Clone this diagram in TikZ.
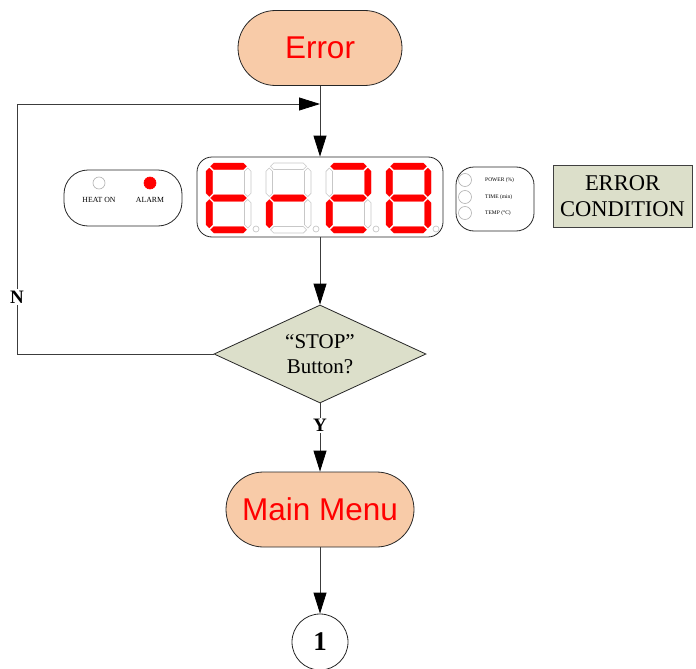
\documentclass[tikz,border=0pt]{standalone}
\usepackage{fontspec}
\setmainfont{Liberation Serif}
\newfontfamily\arialf{Liberation Sans}
\usetikzlibrary{arrows.meta,shapes.geometric}
\definecolor{peach}{HTML}{F8CBA8}
\definecolor{sage}{HTML}{DCDFCA}
\definecolor{lineg}{HTML}{3C3C3C}
\newcommand\fs[2]{\fontsize{#1}{#2}\selectfont}
\newcommand\hseg[4]{\path[#1] (#2,#4) -- (#2+3.25,#4-3.25) -- (#3-3.25,#4-3.25) -- (#3,#4) -- (#3-3.25,#4+3.25) -- (#2+3.25,#4+3.25) -- cycle;}
\newcommand\vseg[4]{\path[#1] (#2,#3) -- (#2+3.25,#3+3.25) -- (#2+3.25,#4-3.25) -- (#2,#4) -- (#2-3.25,#4-3.25) -- (#2-3.25,#3+3.25) -- cycle;}
\newcommand\sevenseg[8]{%
 \hseg{#2}{#1+4.5}{#1+40.5}{166.25}
 \vseg{#3}{#1+41.75}{168}{196.5}
 \vseg{#4}{#1+41.75}{199.5}{228}
 \hseg{#5}{#1+4.5}{#1+40.5}{229.75}
 \vseg{#6}{#1+3.25}{199.5}{228}
 \vseg{#7}{#1+3.25}{168}{196.5}
 \hseg{#8}{#1+4.5}{#1+40.5}{198}
 \path[segoff] (#1+50,229) circle (3pt);
}
\tikzset{
  segon/.style={fill=red,draw=red,line width=0.3pt},
  segoff/.style={fill=white,draw=black!22,line width=0.7pt},
  term/.style={draw=black!85,line width=0.8pt,fill=peach,rounded corners=37.5pt,minimum height=75,text=red,font=\arialf\fs{31.5}{36}},
  panel/.style={draw=black!85,line width=0.8pt,fill=white},
  led/.style={circle,draw=black!30,line width=0.6pt,fill=white,minimum size=12,inner sep=0pt},
  tinyt/.style={inner sep=0pt,font=\fs{7.8}{8}},
  microt/.style={inner sep=0pt,anchor=west,font=\fs{5.5}{6}},
  sagebox/.style={draw=black!75,line width=0.8pt,fill=sage,align=center,font=\fs{22.5}{25.5}},
  arr/.style={draw=lineg,line width=0.8pt,-{Triangle[length=21pt,width=13pt,black]}},
  lbl/.style={fill=white,inner sep=1.5pt,font=\bfseries\fs{19}{22},text=black}
}
\begin{document}
\begin{tikzpicture}[x=1pt,y=-1pt]
\path[use as bounding box] (0,0) rectangle (696,669);
% nodes
\node[term,minimum width=164] (err) at (320,48) {Error};
\node[panel,rounded corners=15pt,minimum width=246,minimum height=80] (disp) at (320,197) {};
\node[panel,rounded corners=24pt,minimum width=118,minimum height=56] (lp) at (123,198) {};
\node[led] (heat) at (99,183) {};
\node[led,fill=red,draw=red] (alarm) at (150,183) {};
\node[tinyt] (heatt) at (99,200) {HEAT ON};
\node[tinyt] (alarmt) at (150,200) {ALARM};
\node[panel,rounded corners=18pt,minimum width=78,minimum height=64] (rp) at (495,199) {};
\node[led,minimum size=13] (pw) at (465,180) {};
\node[led,minimum size=13] (tm) at (465,197) {};
\node[led,minimum size=13] (tp) at (465,213) {};
\node[microt] (pwt) at (485,180) {POWER (\%)};
\node[microt] (tmt) at (485,197) {TIME (min)};
\node[microt] (tpt) at (485,213) {TEMP (°C)};
\node[sagebox,minimum width=139,minimum height=62] (ec) at (622.5,196) {ERROR\\CONDITION};
\node[diamond,draw=black!85,line width=0.8pt,fill=sage,aspect=2.16,inner sep=0pt,minimum width=212,minimum height=98,align=center,font=\fs{21}{25}] (dec) at (320,354) {“STOP”\\Button?};
\node[term,minimum width=188] (mm) at (320,509.5) {Main Menu};
\node[circle,draw=black!85,line width=0.8pt,minimum size=56,inner sep=0pt,font=\bfseries\fs{27}{30}] (one) at (320,642) {1};
% digits  E r 2 8
\sevenseg{206}{segon}{segoff}{segoff}{segon}{segon}{segon}{segon}
\sevenseg{266}{segoff}{segoff}{segoff}{segoff}{segon}{segoff}{segon}
\sevenseg{326}{segon}{segon}{segoff}{segon}{segon}{segoff}{segon}
\sevenseg{386}{segon}{segon}{segon}{segon}{segon}{segon}{segon}
% connectors
\coordinate (loopend) at (320,104);
\coordinate (nb) at (17,354);
\coordinate (nt) at (17,104);
\draw[arr] (err) -- (disp);
\draw[arr] (disp) -- (dec);
\draw[arr] (dec.west) -- (nb) -- node[lbl,pos=0.228]{N} (nt) -- (loopend);
\draw[arr] (dec.south) -- node[lbl,pos=0.32]{Y} (mm);
\draw[arr] (mm) -- (one);
\end{tikzpicture}
\end{document}
